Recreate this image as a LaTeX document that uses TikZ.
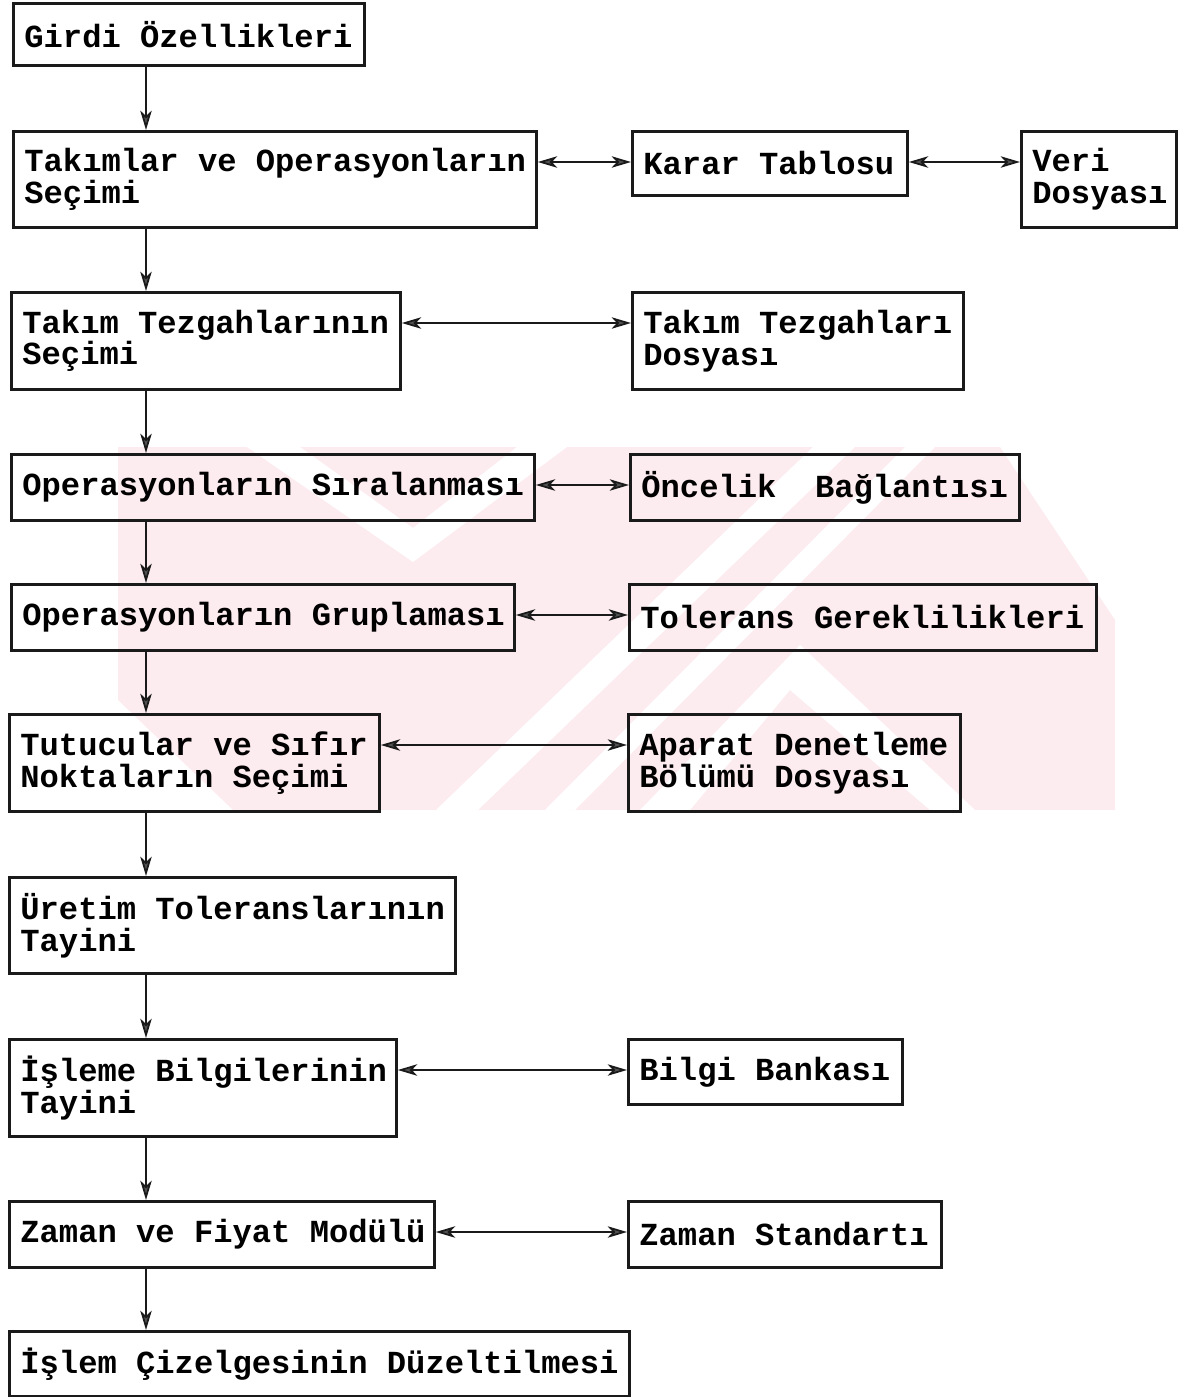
\documentclass[tikz,border=0pt]{standalone}
\usepackage{fontspec}
\newfontfamily\boxfont{Liberation Mono}
\usetikzlibrary{arrows.meta}
\definecolor{ink}{HTML}{1A1A1A}
\definecolor{wmpink}{HTML}{FDECEF}

% typewriter face with a full-width, rigid space and no hyphenation
\newcommand\boxface{\boxfont\bfseries\fontsize{18.3pt}{18.1pt}\selectfont
  \spaceskip=10.98pt plus 0pt minus 0pt\xspaceskip=10.98pt
  \hyphenpenalty=10000\exhyphenpenalty=10000\hbadness=10000\hfuzz=40pt\relax}

\begin{document}
\begin{tikzpicture}[x=0.02cm,y=-0.02cm,
  box/.style 2 args={draw=ink, line width=1.6pt, rectangle, anchor=north west,
    inner xsep={11*0.02cm}, inner ysep=0pt, text width={(#1-22)*0.02cm},
    minimum height={#2*0.02cm}, align=flush left, font=\boxface},
  tip/.tip={Stealth[length=11pt,width=6.5pt,inset=3pt,fill=ink!75,line width=1pt]},
  flow/.style={draw=ink, line width=1.4pt, -tip},
  link/.style={draw=ink, line width=1.4pt, tip-tip},
  row/.style={yshift=-0.64cm}
]
\useasboundingbox (0,0) rectangle (1179,1397);

% faint background mark
\begin{scope}
  \clip (118,447) rectangle (1115,810);
  \fill[wmpink] (118,447) -- (1000,447) -- (1115,620) -- (1115,810)
               -- (233,810) -- (118,700) -- cycle;
  \fill[white] (247,447) -- (300,447) -- (413,528) -- (517,447) -- (567,447)
               -- (413,562) -- cycle;
  \fill[white] (813,447) -- (855,447) -- (478,810) -- (436,810) -- cycle;
  \fill[white] (905,447) -- (935,447) -- (575,810) -- (545,810) -- cycle;
  \fill[white] (640,810) -- (690,810) -- (790,690) -- (930,810) -- (975,810)
               -- (800,645) -- cycle;
\end{scope}

% main column
\node[box={351}{62}]  (girdi)     at (12,2)    {Girdi~Özellikleri};
\node[box={523}{96}]  (takim)     at (12,130)  {Takımlar~ve~Operasyonların\\Seçimi};
\node[box={389}{97}]  (tezgah)    at (10,291)  {Takım~Tezgahlarının\\Seçimi};
\node[box={523}{66}]  (sirala)    at (10,453)  {Operasyonların~Sıralanması};
\node[box={503}{66}]  (grupla)    at (10,583)  {Operasyonların~Gruplaması};
\node[box={370}{97}]  (tutucu)    at (8,713)   {Tutucular~ve~Sıfır\\Noktaların~Seçimi};
\node[box={446}{96}]  (uretim)    at (8,876)   {Üretim~Toleranslarının\\Tayini};
\node[box={387}{97}]  (isleme)    at (8,1038)  {İşleme~Bilgilerinin\\Tayini};
\node[box={425}{66}]  (zaman)     at (8,1200)  {Zaman~ve~Fiyat~Modülü};
\node[box={620}{65}]  (duzelt)    at (8,1330)  {İşlem~Çizelgesinin~Düzeltilmesi};

% side files and tables
\node[box={275}{64}]  (karar)     at (631,130)  {Karar~Tablosu};
\node[box={155}{96}]  (veri)      at (1020,130) {Veri\\Dosyası};
\node[box={331}{97}]  (tezdosya)  at (631,291)  {Takım~Tezgahları\\Dosyası};
\node[box={389}{66}]  (oncelik)   at (629,453)  {Öncelik~~Bağlantısı};
\node[box={467}{66}]  (tolerans)  at (628,583)  {Tolerans~Gereklilikleri};
\node[box={332}{97}]  (aparat)    at (627,713)  {Aparat~Denetleme\\Bölümü~Dosyası};
\node[box={274}{65}]  (bilgi)     at (627,1038) {Bilgi~Bankası};
\node[box={313}{66}]  (standart)  at (627,1200) {Zaman~Standartı};

% vertical flow
\coordinate (spine) at (146,0);
\foreach \a/\b in {girdi/takim, takim/tezgah, tezgah/sirala, sirala/grupla,
                   grupla/tutucu, tutucu/uretim, uretim/isleme, isleme/zaman, zaman/duzelt}
  \draw[flow] (\a.south -| spine) -- (\b.north -| spine);

% two-way links
\foreach \a/\b in {takim/karar, karar/veri, tezgah/tezdosya, sirala/oncelik,
                   grupla/tolerans, tutucu/aparat, isleme/bilgi, zaman/standart}
  \draw[link] ([row]\a.north east) -- ([row]\b.north west);
\end{tikzpicture}
\end{document}
